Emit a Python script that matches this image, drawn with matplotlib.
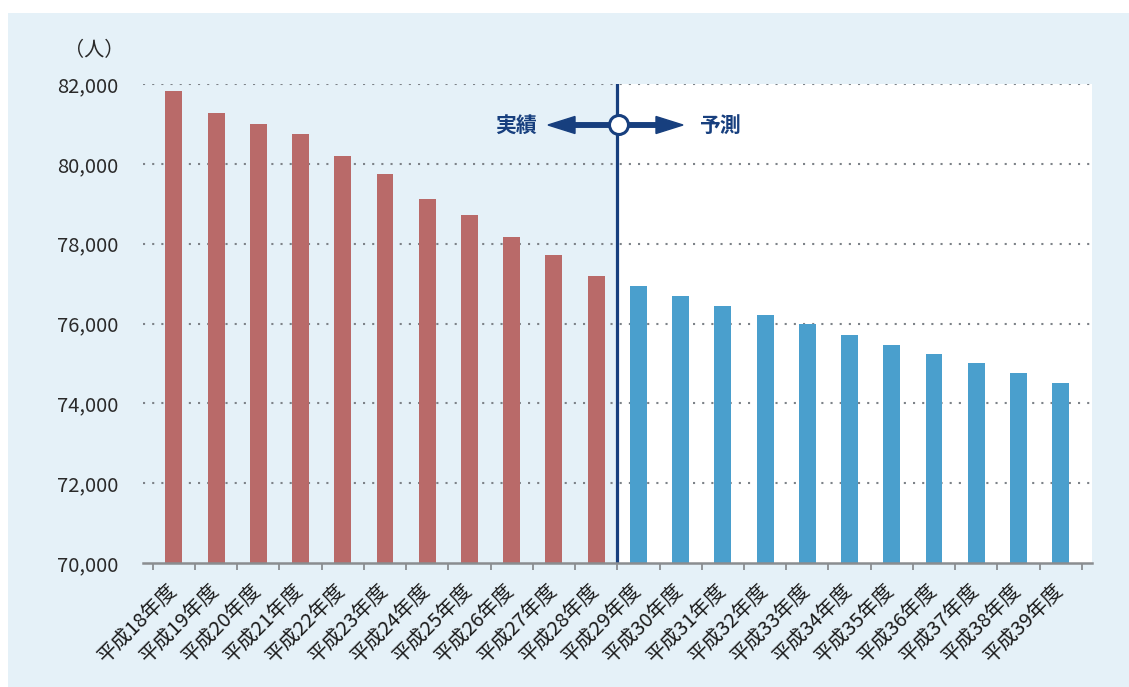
import matplotlib
matplotlib.use("Agg")
import matplotlib.pyplot as plt
from matplotlib.patches import Rectangle, FancyArrow, Circle
from matplotlib.transforms import IdentityTransform
from matplotlib.ticker import FixedLocator, FuncFormatter

plt.rcParams['font.family'] = ['Noto Sans CJK JP', 'DejaVu Sans']

years = list(range(18, 40))
labels = [f"平成{y}年度" for y in years]
actual = [81830, 81270, 81000, 80750, 80200, 79750, 79120, 78720, 78160, 77720, 77190]
forecast = [76940, 76690, 76450, 76210, 75990, 75710, 75470, 75240, 75000, 74750, 74510]
yticks = [70000, 72000, 74000, 76000, 78000, 80000, 82000]

RED = "#b96a69"
BLUE = "#4a9fcd"
NAVY = "#173f7e"
BG = "#e5f1f8"
GRID = "#7d8288"

W, H = 1129, 687
fig = plt.figure(figsize=(W / 100, H / 100), dpi=100)
fig.patch.set_facecolor("white")
fig.add_artist(Rectangle((8 / W, 0), 1 - 8 / W, (H - 13) / H, transform=fig.transFigure,
                         facecolor=BG, edgecolor="none", zorder=-10))

ax = fig.add_axes([143 / W, (H - 563) / H, (1092 - 143) / W, (563 - 84) / H])
ax.set_facecolor("none")

n_act = len(actual)
x_act = list(range(n_act))
x_fc = list(range(n_act, n_act + len(forecast)))
div = n_act - 0.5

ax.set_xlim(-0.73, len(labels) - 1 + 0.74)
ax.set_ylim(yticks[0], yticks[-1])

# white forecast region
ax.axvspan(div, len(labels) - 1 + 0.74, color="white", zorder=0)

for yv in yticks[1:]:
    ax.axhline(yv, color=GRID, lw=1.5, ls=(0, (1, 3.4)), zorder=1)

ax.bar(x_act, [v - yticks[0] for v in actual], bottom=yticks[0], width=0.4, color=RED, zorder=2)
ax.bar(x_fc, [v - yticks[0] for v in forecast], bottom=yticks[0], width=0.4, color=BLUE, zorder=2)

ax.axvline(div, color=NAVY, lw=2.3, zorder=4)

for s in ["top", "right", "left"]:
    ax.spines[s].set_visible(False)
ax.spines["bottom"].set_color("#8a8d90")
ax.spines["bottom"].set_linewidth(1.8)
ax.spines["bottom"].set_zorder(5)

ax.set_yticks(yticks)
ax.yaxis.set_major_formatter(FuncFormatter(lambda v, p: f"{int(v):,}"))
ax.tick_params(axis="y", length=0, pad=18, labelsize=14.5, labelcolor="#2a2a2a")

ax.set_xticks(range(len(labels)))
ax.set_xticklabels(labels, rotation=45, ha="right", va="center", rotation_mode="anchor",
                   fontsize=14.5, color="#1a1a1a")
ax.tick_params(axis="x", which="major", length=0, pad=17)
ax.xaxis.set_minor_locator(FixedLocator([i - 0.5 for i in range(len(labels) + 1)]))
ax.tick_params(axis="x", which="minor", length=5, width=1.3, color="#8a8d90", direction="out")

fig.text(94 / W, (H - 51) / H, "（人）", ha="center", va="center", fontsize=14.5, color="#2a2a2a")

# 実績 / 予測 annotation
cy = H - 125
cx = 619
idt = IdentityTransform()
fig.add_artist(FancyArrow(cx - 9, cy, -(cx - 9 - 548), 0, width=4.5, head_width=17, head_length=27,
                          length_includes_head=True, color=NAVY, transform=idt, zorder=6))
fig.add_artist(FancyArrow(cx + 9, cy, 683 - (cx + 9), 0, width=4.5, head_width=17, head_length=27,
                          length_includes_head=True, color=NAVY, transform=idt, zorder=6))
fig.add_artist(Circle((cx, cy), 9.5, facecolor="white", edgecolor=NAVY, lw=2.2, transform=idt, zorder=7))
fig.text(516 / W, cy / H, "実績", ha="center", va="center", fontsize=15, fontweight="bold", color=NAVY)
fig.text(720 / W, cy / H, "予測", ha="center", va="center", fontsize=15, fontweight="bold", color=NAVY)

fig.savefig("out.png", dpi=100, facecolor=fig.get_facecolor())
